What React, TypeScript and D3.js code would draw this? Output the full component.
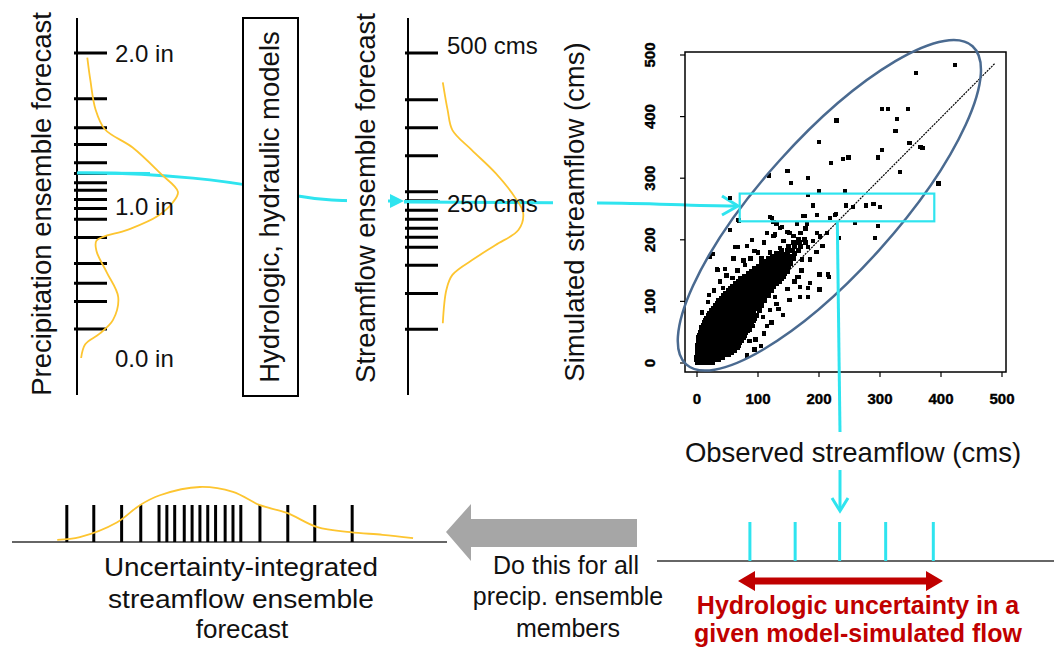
import React from 'react';
import * as d3 from 'd3';

const W = 1054;
const H = 650;
const FONT = "'Liberation Sans', Arial, sans-serif";
const CYAN = '#2FE4EF';
const GOLD = '#FDC530';
const DARKRED = '#C00000';
const ELLIPSE = '#4A6A90';

// Precipitation ensemble members (inches) and the fitted density
const precipMembers = [2.0, 1.7, 1.51, 1.4, 1.28, 1.21, 1.15, 1.1, 1.04, 0.98, 0.91, 0.79, 0.62, 0.49, 0.37, 0.19];
const precipLabels = [2.0, 1.0, 0.0];
const precipDensity: [number, number][] = [
  [1.97, 0.1], [1.82, 0.13], [1.63, 0.18], [1.5, 0.27], [1.38, 0.54], [1.21, 0.81], [1.09, 0.98],
  [1.02, 0.93], [0.93, 0.78], [0.84, 0.49], [0.77, 0.19], [0.7, 0.19], [0.56, 0.29], [0.4, 0.4],
  [0.25, 0.35], [0.16, 0.22], [0.09, 0.08], [0.0, 0.04],
];

// Streamflow ensemble members (cms) and density
const flowMembers = [500, 422, 375, 328, 268, 253, 237, 222, 207, 192, 175, 145, 98, 38];
const flowLabels = [500, 250];
const flowDensity: [number, number][] = [
  [451, 0.29], [405, 0.33], [371, 0.37], [338, 0.53], [299, 0.73], [259, 0.89], [232, 0.96],
  [204, 0.92], [179, 0.73], [157, 0.56], [129, 0.37], [104, 0.32], [48, 0.29],
];

// Uncertainty-integrated ensemble members and density
const integratedMembers = [63, 94, 126, 148, 169, 178, 187, 198, 207, 216, 225, 234, 245, 254, 263, 285, 317, 348, 391];
const integratedDensity: [number, number][] = [
  [52, 0.04], [78, 0.09], [121, 0.36], [147, 0.67], [170, 0.85], [216, 1.0], [254, 0.91], [285, 0.67],
  [316, 0.53], [351, 0.27], [389, 0.18], [426, 0.13], [461, 0.07],
];

// Observed flows for one simulated flow
const obsMembers = [117, 174, 230, 288, 348];

// Scatter plot
const scatterTicks = [0, 100, 200, 300, 400, 500];
const scatterOutliers: [number, number][] = [
  [423, 484], [359, 471], [303, 412], [313, 412], [346, 412], [229, 394], [328, 396], [325, 377],
  [200, 359], [348, 357], [370, 349], [303, 346], [239, 331], [248, 334], [297, 334], [220, 325],
  [148, 312], [118, 304], [182, 300], [333, 310], [154, 292], [200, 279], [243, 279], [182, 273],
  [395, 291], [190, 256], [244, 256], [256, 253], [277, 256], [289, 258], [300, 253], [174, 239],
  [197, 240], [218, 235], [228, 242], [123, 235], [259, 227], [297, 222], [130, 226], [164, 226],
  [180, 226], [136, 219], [115, 211], [128, 209], [152, 211], [170, 211], [197, 211], [202, 205],
  [292, 203], [54, 268], [67, 232], [54, 216], [21, 172], [33, 153], [46, 153], [66, 188], [82, 190],
  [90, 200], [125, 229], [139, 221], [185, 130], [169, 123], [169, 107], [182, 107], [200, 119],
  [200, 144], [216, 140], [141, 78], [166, 140], [233, 203], [366, 351], [397, 291], [226, 240],
  [177, 239], [120, 237], [69, 231], [131, 226], [148, 213], [125, 206], [213, 211], [62, 188],
  [100, 179], [120, 179], [136, 187], [161, 195], [182, 188], [25, 177], [34, 151], [43, 122],
  [79, 159], [103, 156], [202, 144], [215, 144], [182, 122], [202, 119], [164, 140], [18, 99],
  [128, 107], [103, 91], [120, 86], [87, 54], [67, 26], [108, 75], [152, 102], [115, 60],
  [96, 38], [130, 96], [58, 138], [88, 170], [110, 196], [145, 176], [172, 168], [190, 198],
  [28, 118], [12, 64], [105, 28], [123, 118], [60, 170], [142, 150], [82, 12], [94, 22],
  [110, 48], [122, 66], [134, 88], [148, 120], [160, 132], [171, 150], [185, 168], [196, 180],
  [206, 190], [48, 142], [38, 132], [20, 110], [8, 82], [66, 150], [76, 166], [94, 182],
  [106, 170], [158, 206], [142, 198], [178, 218], [92, 60], [86, 36],
];
const scatterCoreRows: [number, number[]][] = [
  [1, [0, 5, 10, 15, 20, 26]],
  [5, [-1, 4, 9, 14, 19, 24, 30, 36]],
  [9, [-1, 4, 9, 14, 19, 24, 30, 36, 42]],
  [13, [0, 5, 10, 16, 22, 28, 34, 40, 46, 51]],
  [17, [0, 5, 10, 16, 22, 28, 34, 40, 46, 52, 57]],
  [21, [0, 6, 12, 18, 24, 30, 36, 42, 48, 54, 61]],
  [25, [1, 7, 13, 19, 25, 31, 37, 43, 49, 55, 60, 66]],
  [29, [1, 7, 13, 19, 25, 31, 37, 43, 49, 55, 61, 68]],
  [33, [2, 8, 14, 20, 26, 32, 38, 44, 50, 56, 62, 70]],
  [37, [2, 8, 14, 20, 26, 32, 38, 44, 50, 56, 62, 67, 73]],
  [41, [3, 9, 15, 21, 27, 33, 39, 45, 51, 57, 63, 69, 76]],
  [45, [4, 10, 16, 22, 28, 34, 40, 46, 52, 58, 64, 70, 78]],
  [49, [5, 11, 17, 23, 29, 35, 41, 47, 53, 59, 65, 71, 80]],
  [53, [7, 13, 19, 25, 31, 37, 43, 49, 55, 61, 67, 74, 83]],
  [57, [8, 14, 20, 26, 32, 38, 44, 50, 56, 62, 68, 76, 85]],
  [61, [10, 16, 22, 28, 34, 40, 46, 52, 58, 64, 70, 78, 88]],
  [65, [12, 18, 24, 30, 36, 42, 48, 54, 60, 66, 72, 80, 90]],
  [69, [14, 20, 26, 32, 38, 44, 50, 56, 62, 68, 74, 82, 93]],
  [73, [16, 22, 28, 34, 40, 46, 52, 58, 64, 70, 76, 85, 95]],
  [77, [19, 25, 31, 37, 43, 49, 55, 61, 67, 73, 80, 88, 98]],
  [81, [21, 27, 33, 39, 45, 51, 57, 63, 69, 75, 82, 90]],
  [85, [24, 30, 36, 42, 48, 54, 60, 66, 72, 78, 85, 93, 102]],
  [89, [27, 33, 39, 45, 51, 57, 63, 69, 75, 81, 88, 96]],
  [93, [30, 36, 42, 48, 54, 60, 66, 72, 78, 84, 91, 99, 106]],
  [97, [33, 39, 45, 51, 57, 63, 69, 75, 81, 87, 94, 102]],
  [101, [36, 42, 48, 54, 60, 66, 72, 78, 84, 90, 97, 105, 111]],
  [105, [40, 46, 52, 58, 64, 70, 76, 82, 88, 94, 100, 108]],
  [109, [43, 49, 55, 61, 67, 73, 79, 85, 91, 97, 103, 111, 118]],
  [113, [47, 53, 59, 65, 71, 77, 83, 89, 95, 101, 107, 114]],
  [117, [51, 57, 63, 69, 75, 81, 87, 93, 99, 105, 111, 118]],
  [121, [55, 61, 67, 73, 79, 85, 91, 97, 103, 109, 115, 122]],
  [125, [59, 65, 71, 77, 83, 89, 95, 101, 107, 113, 119, 126]],
  [129, [63, 69, 75, 81, 87, 93, 99, 105, 111, 117, 123, 130]],
  [133, [68, 74, 80, 86, 92, 98, 104, 110, 116, 122, 128, 135]],
  [137, [72, 78, 84, 90, 96, 102, 108, 114, 120, 126, 132, 139]],
  [141, [78, 84, 90, 97, 103, 110, 116, 122, 128, 135, 142]],
  [145, [84, 90, 97, 103, 110, 116, 122, 129, 136, 144]],
  [149, [89, 96, 102, 109, 115, 121, 128, 134, 141, 148]],
  [153, [95, 101, 108, 114, 121, 127, 134, 140, 147]],
  [157, [100, 107, 113, 120, 127, 134, 141, 150]],
  [161, [106, 113, 121, 128, 136, 144, 154]],
  [165, [112, 120, 128, 136, 144, 152]],
  [169, [118, 126, 134, 142, 151, 159]],
  [173, [124, 132, 140, 149, 157]],
  [178, [130, 139, 148, 160]],
  [183, [138, 148, 157, 166]],
  [189, [150, 160, 170]],
  [195, [158, 168, 178]],
  [201, [166, 176]],
];
const obsBoxRange = { x: [70, 389], y: [230, 275] };

export default function App() {
  // left: precipitation axis
  const pY = d3.scaleLinear().domain([0, 2]).range([358, 53]);
  const pD = d3.scaleLinear().domain([0, 1]).range([77, 180]);
  // middle: streamflow axis
  const fY = d3.scaleLinear().domain([0, 500]).range([352, 53]);
  const fD = d3.scaleLinear().domain([0, 1]).range([408, 528]);
  // scatter
  const sx = d3.scaleLinear().domain([0, 500]).range([697, 1002]);
  const sy = d3.scaleLinear().domain([0, 500]).range([363, 55]);
  // bottom-left integrated axis
  const bX = d3.scaleLinear().domain([0, 500]).range([12, 447]);
  const bD = d3.scaleLinear().domain([0, 1]).range([542, 487]);
  // bottom-right observed axis
  const oX = d3.scaleLinear().domain([0, 500]).range([657, 1054]);

  const curve = d3.curveCatmullRom.alpha(0.5);
  const pLine = d3.line<[number, number]>().x(d => pD(d[1])).y(d => pY(d[0])).curve(curve);
  const fLine = d3.line<[number, number]>().x(d => fD(d[1])).y(d => fY(d[0])).curve(curve);
  const bLine = d3.line<[number, number]>().x(d => bX(d[0])).y(d => bD(d[1])).curve(curve);

  const corePts: [number, number][] = [];
  scatterCoreRows.forEach(([y, xs]) => xs.forEach(x => corePts.push([x, y])));

  const coreSize = 5;
  const outSize = 4.5;
  const ecx = sx(217), ecy = sy(256);
  const rx0 = sx(obsBoxRange.x[0]), rx1 = sx(obsBoxRange.x[1]);
  const ry0 = sy(obsBoxRange.y[1]), ry1 = sy(obsBoxRange.y[0]);
  const vX = sx(230);

  return (
    <svg width={W} height={H} style={{ position: 'absolute', left: 0, top: 0, background: '#fff' }} fontFamily={FONT}>
      <rect x={0} y={0} width={W} height={H} fill="#fff" />

      {/* cyan connector behind the boxes */}
      <path d={`M77,173 C150,172 240,180 298,196 C320,200 335,201 392,201`} fill="none" stroke={CYAN} strokeWidth={3} />
      <path d="M390,194 L404,201 L390,208 Z" fill={CYAN} />
      <path d={`M404,202 L600,203 C650,203 690,206 736,206`} fill="none" stroke={CYAN} strokeWidth={3} />
      <path d="M722,196 L738,206 L722,215" fill="none" stroke={CYAN} strokeWidth={3} />

      {/* Precipitation panel */}
      <line x1={77} x2={77} y1={18} y2={395} stroke="#000" strokeWidth={2} />
      {precipMembers.map((v, i) => (
        <line key={i} x1={74} x2={107} y1={pY(v)} y2={pY(v)} stroke="#000" strokeWidth={3} />
      ))}
      <path d={pLine(precipDensity) || ''} fill="none" stroke={GOLD} strokeWidth={1.8} />
      <line x1={77} x2={150} y1={173} y2={173.5} stroke={CYAN} strokeWidth={3} />
      {precipLabels.map(v => (
        <text key={v} x={115} y={pY(v) + 9} fontSize={24} fill="#111">{v.toFixed(1)} in</text>
      ))}
      <text transform="translate(51,204) rotate(-90)" textAnchor="middle" fontSize={27.5} fill="#111">Precipitation ensemble forecast</text>

      {/* model box */}
      <rect x={243} y={18} width={55} height={378} fill="#fff" stroke="#000" strokeWidth={2} />
      <text transform="translate(279,207) rotate(-90)" textAnchor="middle" fontSize={27.5} fill="#111">Hydrologic, hydraulic models</text>

      {/* Streamflow panel */}
      <rect x={347} y={10} width={41} height={390} fill="#fff" />
      <text transform="translate(375,198) rotate(-90)" textAnchor="middle" fontSize={27.5} fill="#111">Streamflow ensemble forecast</text>
      <line x1={408} x2={408} y1={18} y2={395} stroke="#000" strokeWidth={2} />
      {flowMembers.map((v, i) => (
        <line key={i} x1={405} x2={438} y1={fY(v)} y2={fY(v)} stroke="#000" strokeWidth={3} />
      ))}
      <path d={fLine(flowDensity) || ''} fill="none" stroke={GOLD} strokeWidth={1.8} />
      <line x1={404} x2={440} y1={201.5} y2={201.5} stroke={CYAN} strokeWidth={3} />
      {flowLabels.map(v => (
        <text key={v} x={447} y={fY(v) + (v === 500 ? 1 : 9)} fontSize={24} fill="#111">{v} cms</text>
      ))}

      {/* Scatter panel */}
      <rect x={553} y={30} width={44} height={360} fill="#fff" />
      <text transform="translate(584,212) rotate(-90)" textAnchor="middle" fontSize={27.5} fill="#111">Simulated streamflow (cms)</text>
      <rect x={685} y={52} width={321} height={320} fill="none" stroke="#000" strokeWidth={1.5} />
      {scatterTicks.map(t => (
        <g key={'x' + t}>
          <line x1={sx(t)} x2={sx(t)} y1={372} y2={377} stroke="#000" strokeWidth={1.2} />
          <text x={sx(t)} y={404} textAnchor="middle" fontSize={15} fontWeight="bold" fill="#000" stroke="#000" strokeWidth={0.4}>{t}</text>
        </g>
      ))}
      {scatterTicks.map(t => (
        <g key={'y' + t}>
          <line x1={680} x2={685} y1={sy(t)} y2={sy(t)} stroke="#000" strokeWidth={1.2} />
          <text transform={`translate(655,${sy(t)}) rotate(-90)`} textAnchor="middle" fontSize={15} fontWeight="bold" fill="#000" stroke="#000" strokeWidth={0.4}>{t}</text>
        </g>
      ))}
      <g shapeRendering="crispEdges">
        {corePts.map((d, i) => (
          <rect key={'c' + i} x={sx(d[0]) - coreSize / 2} y={sy(d[1]) - coreSize / 2} width={coreSize} height={coreSize} fill="#000" />
        ))}
        {scatterOutliers.map((d, i) => (
          <rect key={'o' + i} x={sx(d[0]) - outSize / 2} y={sy(d[1]) - outSize / 2} width={outSize} height={outSize} fill="#000" />
        ))}
      </g>
      <line x1={sx(0)} y1={sy(0)} x2={sx(488)} y2={sy(486)} stroke="#000" strokeWidth={1.2} strokeDasharray="2,1" />
      <ellipse cx={ecx} cy={ecy} rx={214} ry={67} transform={`rotate(-48,${ecx},${ecy})`} fill="none" stroke={ELLIPSE} strokeWidth={2.5} />
      <rect x={rx0} y={ry0} width={rx1 - rx0} height={ry1 - ry0} fill="none" stroke={CYAN} strokeWidth={2.2} />
      <line x1={vX} y1={ry1} x2={840} y2={432} stroke={CYAN} strokeWidth={3} />

      <text x={853} y={462} textAnchor="middle" fontSize={27.5} fill="#111">Observed streamflow (cms)</text>
      <line x1={840} y1={470} x2={840} y2={510} stroke={CYAN} strokeWidth={3} />
      <path d="M832,498 L840,511 L848,498" fill="none" stroke={CYAN} strokeWidth={3} />

      {/* Bottom right: hydrologic uncertainty */}
      <line x1={657} x2={1054} y1={561} y2={561} stroke="#333" strokeWidth={1.6} />
      {obsMembers.map((v, i) => (
        <line key={i} x1={oX(v)} x2={oX(v)} y1={522} y2={561} stroke={CYAN} strokeWidth={3} />
      ))}
      <path d="M738,581 L755,571 L755,577.5 L926,577.5 L926,571 L943,581 L926,591 L926,584.5 L755,584.5 L755,591 Z" fill={DARKRED} />
      <text x={858} y={614} textAnchor="middle" fontSize={25} fontWeight="bold" fill={DARKRED}>Hydrologic uncertainty in a</text>
      <text x={858} y={642} textAnchor="middle" fontSize={25} fontWeight="bold" fill={DARKRED}>given model-simulated flow</text>

      {/* Gray arrow */}
      <path d="M446,532 L471,504 L471,519 L637,519 L637,547 L471,547 L471,561 Z" fill="#A6A6A6" />
      <text x={566} y={574} textAnchor="middle" fontSize={25} fill="#111">Do this for all</text>
      <text x={568} y={605} textAnchor="middle" fontSize={25} fill="#111">precip. ensemble</text>
      <text x={568} y={637} textAnchor="middle" fontSize={25} fill="#111">members</text>

      {/* Bottom left: integrated forecast */}
      <line x1={12} x2={447} y1={542} y2={542} stroke="#333" strokeWidth={1.6} />
      {integratedMembers.map((v, i) => (
        <line key={i} x1={bX(v)} x2={bX(v)} y1={505} y2={542} stroke="#000" strokeWidth={3} />
      ))}
      <path d={bLine(integratedDensity) || ''} fill="none" stroke={GOLD} strokeWidth={1.8} />
      <text x={241} y={576} textAnchor="middle" fontSize={26} fill="#111" textLength={274} lengthAdjust="spacingAndGlyphs">Uncertainty-integrated</text>
      <text x={241} y={608} textAnchor="middle" fontSize={26} fill="#111" textLength={266} lengthAdjust="spacingAndGlyphs">streamflow ensemble</text>
      <text x={242} y={638} textAnchor="middle" fontSize={26} fill="#111">forecast</text>
    </svg>
  );
}
